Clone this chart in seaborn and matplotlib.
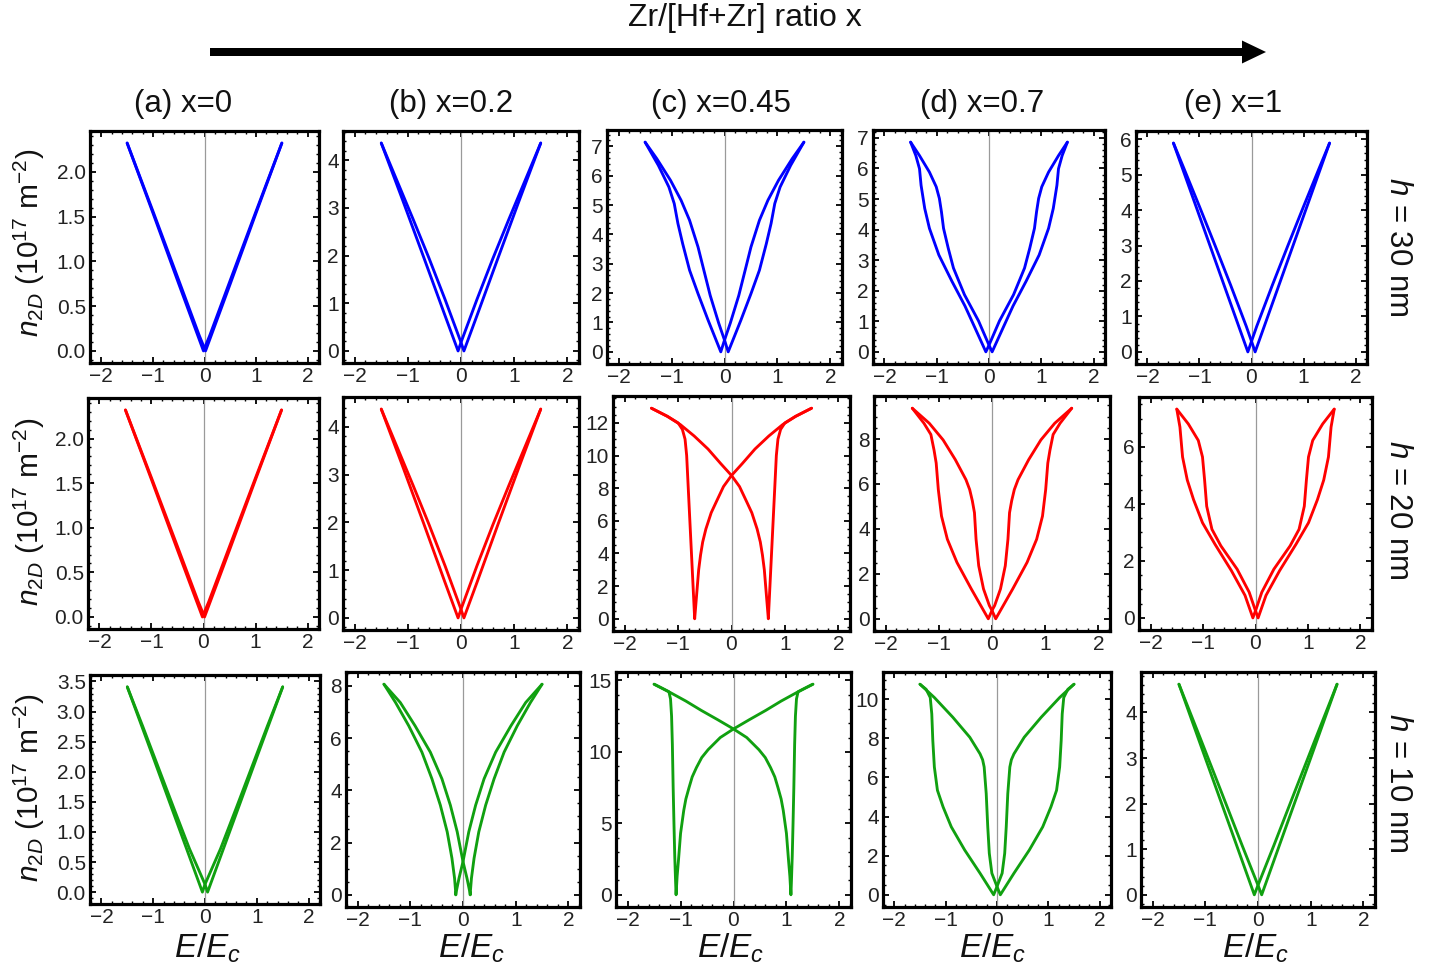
import matplotlib
matplotlib.use("Agg")
import matplotlib.pyplot as plt
import numpy as np
import pandas as pd
import seaborn as sns
from matplotlib.ticker import MultipleLocator, AutoMinorLocator, FormatStrFormatter
from matplotlib.patches import FancyArrow

# ---------------------------------------------------------------------------
# Hysteresis loops n_2D(E) for HfZrO layers.
# For every panel: "inner" = left arm of the up-sweep (E=-1.5 -> +Ec'),
#                  "outer" = left arm of the down-sweep (E=-1.5 -> -Ec').
# The right arms follow from the E -> -E symmetry of the loop.
# ---------------------------------------------------------------------------

# ---- h = 30 nm -------------------------------------------------------------
h30_a_inner_E = [-1.50, -1.00, -0.50, -0.10, 0.00, 0.02]
h30_a_inner_n = [2.32, 1.56, 0.79, 0.17, 0.03, 0.00]
h30_a_outer_E = [-1.50, -1.00, -0.50, -0.02]
h30_a_outer_n = [2.32, 1.54, 0.75, 0.00]

h30_b_inner_E = [-1.50, -1.20, -0.90, -0.60, -0.30, 0.00, 0.055]
h30_b_inner_n = [4.36, 3.56, 2.76, 1.94, 1.08, 0.18, 0.00]
h30_b_outer_E = [-1.50, -1.10, -0.70, -0.30, -0.055]
h30_b_outer_n = [4.36, 3.17, 1.96, 0.74, 0.00]

h30_c_inner_E = [-1.50, -1.28, -1.02, -0.82, -0.66, -0.50, -0.40, -0.27, -0.11, 0.00, 0.07]
h30_c_inner_n = [7.14, 6.58, 5.84, 5.16, 4.48, 3.57, 2.85, 1.92, 0.98, 0.40, 0.00]
h30_c_outer_E = [-1.50, -1.25, -1.05, -0.95, -0.88, -0.79, -0.66, -0.50, -0.31, -0.07]
h30_c_outer_n = [7.14, 6.35, 5.61, 5.05, 4.37, 3.68, 2.78, 1.98, 1.08, 0.00]

h30_d_inner_E = [-1.50, -1.33, -1.14, -1.01, -0.95, -0.91, -0.87, -0.78, -0.68, -0.47, -0.20, 0.00, 0.06]
h30_d_inner_n = [6.86, 6.42, 5.88, 5.40, 5.02, 4.58, 4.04, 3.39, 2.74, 1.87, 1.01, 0.22, 0.00]
h30_d_outer_E = [-1.50, -1.40, -1.33, -1.30, -1.23, -1.14, -0.96, -0.71, -0.46, -0.27, -0.06]
h30_d_outer_n = [6.86, 6.42, 5.99, 5.45, 4.69, 4.04, 3.17, 2.31, 1.50, 0.79, 0.00]

h30_e_inner_E = [-1.50, -1.30, -1.00, -0.70, -0.40, -0.10, 0.00, 0.07]
h30_e_inner_n = [5.89, 5.18, 4.10, 3.00, 1.88, 0.72, 0.30, 0.00]
h30_e_outer_E = [-1.50, -1.00, -0.50, -0.07]
h30_e_outer_n = [5.89, 3.83, 1.77, 0.00]

# ---- h = 20 nm -------------------------------------------------------------
h20_a_inner_E = [-1.50, -1.00, -0.50, -0.10, 0.00, 0.02]
h20_a_inner_n = [2.32, 1.56, 0.79, 0.17, 0.03, 0.00]
h20_a_outer_E = [-1.50, -1.00, -0.50, -0.02]
h20_a_outer_n = [2.32, 1.54, 0.75, 0.00]

h20_b_inner_E = [-1.50, -1.20, -0.90, -0.60, -0.30, 0.00, 0.055]
h20_b_inner_n = [4.37, 3.57, 2.77, 1.95, 1.09, 0.18, 0.00]
h20_b_outer_E = [-1.50, -1.10, -0.70, -0.30, -0.055]
h20_b_outer_n = [4.37, 3.18, 1.97, 0.74, 0.00]

h20_c_inner_E = [-1.50, -1.20, -0.96, -0.70, -0.44, -0.20, 0.00, 0.15, 0.28, 0.38, 0.48, 0.54, 0.58, 0.615, 0.64, 0.665, 0.69]
h20_c_inner_n = [12.90, 12.40, 11.90, 11.20, 10.40, 9.50, 8.78, 8.10, 7.20, 6.50, 5.50, 4.70, 3.90, 3.00, 2.00, 1.00, 0.00]
h20_c_outer_E = [-1.50, -1.20, -1.00, -0.92, -0.87, -0.84, -0.81, -0.78, -0.75, -0.72, -0.69]
h20_c_outer_n = [12.90, 12.40, 12.00, 11.60, 11.00, 10.00, 8.00, 6.00, 4.00, 2.00, 0.00]

h20_d_inner_E = [-1.50, -1.18, -0.92, -0.69, -0.49, -0.42, -0.37, -0.33, -0.30, -0.25, -0.16, -0.05, 0.00, 0.07]
h20_d_inner_n = [9.37, 8.70, 7.96, 7.08, 6.19, 5.75, 5.25, 4.72, 3.54, 2.36, 1.33, 0.59, 0.37, 0.00]
h20_d_outer_E = [-1.50, -1.28, -1.15, -1.09, -1.05, -1.01, -0.95, -0.84, -0.66, -0.39, -0.07]
h20_d_outer_n = [9.37, 8.70, 8.20, 7.50, 6.93, 5.75, 4.57, 3.54, 2.51, 1.33, 0.00]

h20_e_inner_E = [-1.50, -1.28, -1.09, -1.01, -0.97, -0.93, -0.83, -0.66, -0.35, -0.12, 0.00, 0.05]
h20_e_inner_n = [7.33, 6.81, 6.23, 5.65, 4.84, 3.92, 3.11, 2.53, 1.71, 0.90, 0.25, 0.00]
h20_e_outer_E = [-1.50, -1.44, -1.39, -1.30, -1.18, -1.01, -0.77, -0.46, -0.20, -0.05]
h20_e_outer_n = [7.33, 6.70, 5.65, 4.84, 4.15, 3.34, 2.58, 1.66, 0.79, 0.00]

# ---- h = 10 nm -------------------------------------------------------------
h10_a_inner_E = [-1.50, -1.20, -0.90, -0.60, -0.30, 0.00, 0.05]
h10_a_inner_n = [3.41, 2.75, 2.07, 1.39, 0.72, 0.13, 0.00]
h10_a_outer_E = [-1.50, -1.00, -0.50, -0.05]
h10_a_outer_n = [3.41, 2.24, 1.06, 0.00]

h10_b_inner_E = [-1.50, -1.19, -0.91, -0.62, -0.40, -0.24, -0.11, 0.00, 0.076, 0.14]
h10_b_inner_n = [8.06, 7.36, 6.47, 5.46, 4.44, 3.43, 2.41, 1.27, 0.63, 0.00]
h10_b_outer_E = [-1.50, -1.28, -1.03, -0.78, -0.59, -0.43, -0.30, -0.21, -0.16, -0.135]
h10_b_outer_n = [8.06, 7.36, 6.47, 5.46, 4.44, 3.43, 2.41, 1.40, 0.63, 0.00]

h10_c_inner_E = [-1.50, -1.22, -0.90, -0.61, -0.30, 0.00, 0.25, 0.48, 0.60, 0.70, 0.78, 0.84, 0.90, 0.94, 0.97, 1.00, 1.04, 1.065, 1.085]
h10_c_inner_n = [14.73, 14.20, 13.55, 12.90, 12.25, 11.60, 11.00, 10.15, 9.60, 8.90, 8.25, 7.50, 6.70, 5.90, 5.10, 4.30, 2.40, 1.30, 0.00]
h10_c_outer_E = [-1.50, -1.35, -1.22, -1.19, -1.17, -1.155, -1.14, -1.125, -1.11, -1.095, -1.085]
h10_c_outer_n = [14.73, 14.45, 14.20, 13.70, 12.50, 10.50, 7.50, 5.00, 2.70, 1.00, 0.00]

h10_d_inner_E = [-1.50, -1.22, -0.86, -0.53, -0.33, -0.28, -0.25, -0.21, -0.18, -0.15, -0.10, 0.00, 0.065]
h10_d_inner_n = [10.76, 10.08, 9.07, 8.05, 7.20, 6.90, 6.53, 5.17, 3.47, 2.12, 1.10, 0.42, 0.00]
h10_d_outer_E = [-1.50, -1.38, -1.30, -1.27, -1.25, -1.22, -1.16, -1.05, -0.89, -0.63, -0.33, -0.065]
h10_d_outer_n = [10.76, 10.50, 10.08, 9.24, 7.88, 6.53, 5.34, 4.49, 3.47, 2.29, 1.10, 0.00]

h10_e_inner_E = [-1.50, -1.10, -0.70, -0.30, 0.00, 0.07]
h10_e_inner_n = [4.62, 3.45, 2.27, 1.08, 0.21, 0.00]
h10_e_outer_E = [-1.50, -1.00, -0.50, -0.07]
h10_e_outer_n = [4.62, 3.00, 1.39, 0.00]

# ---- labels ----------------------------------------------------------------
column_titles = ["(a) x=0", "(b) x=0.2", "(c) x=0.45", "(d) x=0.7", "(e) x=1"]
row_thickness = ["30", "20", "10"]
x_ticks = [-2, -1, 0, 1, 2]
y_tick_steps = [[0.5, 1, 1, 1, 1],
                [0.5, 1, 2, 2, 2],
                [0.5, 2, 5, 2, 1]]

g = globals()
panels = [[(g[f"h{h}_{c}_inner_E"], g[f"h{h}_{c}_inner_n"],
            g[f"h{h}_{c}_outer_E"], g[f"h{h}_{c}_outer_n"]) for c in "abcde"]
          for h in row_thickness]

row_colors = ["#0000ff", "#ff0000", "#10a010"]


def loop_frame(inner_E, inner_n, outer_E, outer_n):
    up_E = list(inner_E) + [-e for e in reversed(outer_E)]
    up_n = list(inner_n) + list(reversed(outer_n))
    down_E = [-e for e in up_E]
    return pd.DataFrame({"E": up_E + down_E,
                         "n": up_n + up_n,
                         "sweep": ["up"] * len(up_E) + ["down"] * len(up_E)})


sns.set_theme(style="white")
plt.rcParams["font.family"] = ["Liberation Sans", "DejaVu Sans"]
plt.rcParams["mathtext.fontset"] = "custom"
plt.rcParams["mathtext.rm"] = "Liberation Sans"
plt.rcParams["mathtext.it"] = "Liberation Sans:italic"
plt.rcParams["axes.unicode_minus"] = True

W, H = 1438, 975
fig = plt.figure(figsize=(W / 100, H / 100), dpi=100)
fig.patch.set_facecolor("white")

# frame boxes in pixels: (left, right, top, bottom)
boxes = [
    [(90, 319, 131, 363), (343, 579, 131, 363), (607, 842, 130, 364), (873, 1105, 130, 364), (1136, 1367, 131, 364)],
    [(88, 319, 398, 629), (343, 579, 397, 630), (613, 850, 396, 631), (874, 1110, 396, 631), (1139, 1372, 397, 630)],
    [(90, 320, 675, 904), (346, 580, 672, 907), (616, 851, 672, 907), (883, 1111, 672, 907), (1141, 1375, 672, 907)],
]

for r in range(3):
    for c in range(5):
        l, rt, t, b = boxes[r][c]
        ax = fig.add_axes([l / W, 1 - b / H, (rt - l) / W, (b - t) / H])
        df = loop_frame(*panels[r][c])
        ax.axvline(0, color="#9a9a9a", lw=0.9, zorder=1)
        sns.lineplot(data=df, x="E", y="n", units="sweep", estimator=None,
                     sort=False, color=row_colors[r], lw=2.05, ax=ax,
                     legend=False, solid_capstyle="round",
                     solid_joinstyle="round", zorder=3)
        nmax = df["n"].max()
        pad = 0.058 * nmax
        ax.set_xlim(-2.22, 2.22)
        ax.set_ylim(-pad, nmax + pad)
        ax.set_xticks(x_ticks)
        ax.xaxis.set_minor_locator(AutoMinorLocator(5))
        step = y_tick_steps[r][c]
        ax.yaxis.set_major_locator(MultipleLocator(step))
        ax.yaxis.set_minor_locator(AutoMinorLocator(5 if step != 2 else 4))
        ax.yaxis.set_major_formatter(FormatStrFormatter("%.1f" if step == 0.5 else "%d"))
        ax.set_xlabel("")
        ax.set_ylabel("")
        for s in ax.spines.values():
            s.set_visible(True)
            s.set_linewidth(2.3)
            s.set_color("black")
        ax.tick_params(which="both", direction="in", top=True, right=True,
                       bottom=True, left=True, colors="black")
        ax.tick_params(which="major", length=4.5, width=1.3, labelsize=15,
                       pad=3, labelcolor="#222222")
        ax.tick_params(which="minor", length=2.3, width=1.0)
        ax.set_facecolor("white")
        ax.grid(False)

# figure-level annotations in pixel coordinates
ov = fig.add_axes([0, 0, 1, 1], zorder=10)
ov.set_xlim(0, W)
ov.set_ylim(H, 0)
ov.axis("off")
ov.patch.set_alpha(0)

ov.text(745, 18, "Zr/[Hf+Zr] ratio x", fontsize=23, ha="center", va="center", color="#111111")
ov.add_patch(FancyArrow(210, 52, 1056, 0, width=8, head_width=23, head_length=24,
                        length_includes_head=True, color="black", lw=0))

title_x = [183, 451, 721, 982, 1233]
for x, t in zip(title_x, column_titles):
    ov.text(x, 104, t, fontsize=22.5, ha="center", va="center", color="#111111")

ylabel = r"$n_{\mathit{2D}}$ (10$^{17}$ m$^{-2}$)"
for yc in [243, 512, 788]:
    ov.text(29, yc, ylabel, fontsize=21.5, rotation=90, ha="center", va="center", color="#111111")

for yc, hh in zip([247, 510, 783], row_thickness):
    ov.text(1398, yc, r"$h$" + f" = {hh} nm", fontsize=22.5, rotation=-90,
            ha="center", va="center", color="#111111")

xlabel_x = [208, 472, 731, 993, 1256]
for x in xlabel_x:
    ov.text(x, 948, r"$E/E_c$", fontsize=24, ha="center", va="center", color="#111111")

fig.savefig("out.png", dpi=100, facecolor="white")
